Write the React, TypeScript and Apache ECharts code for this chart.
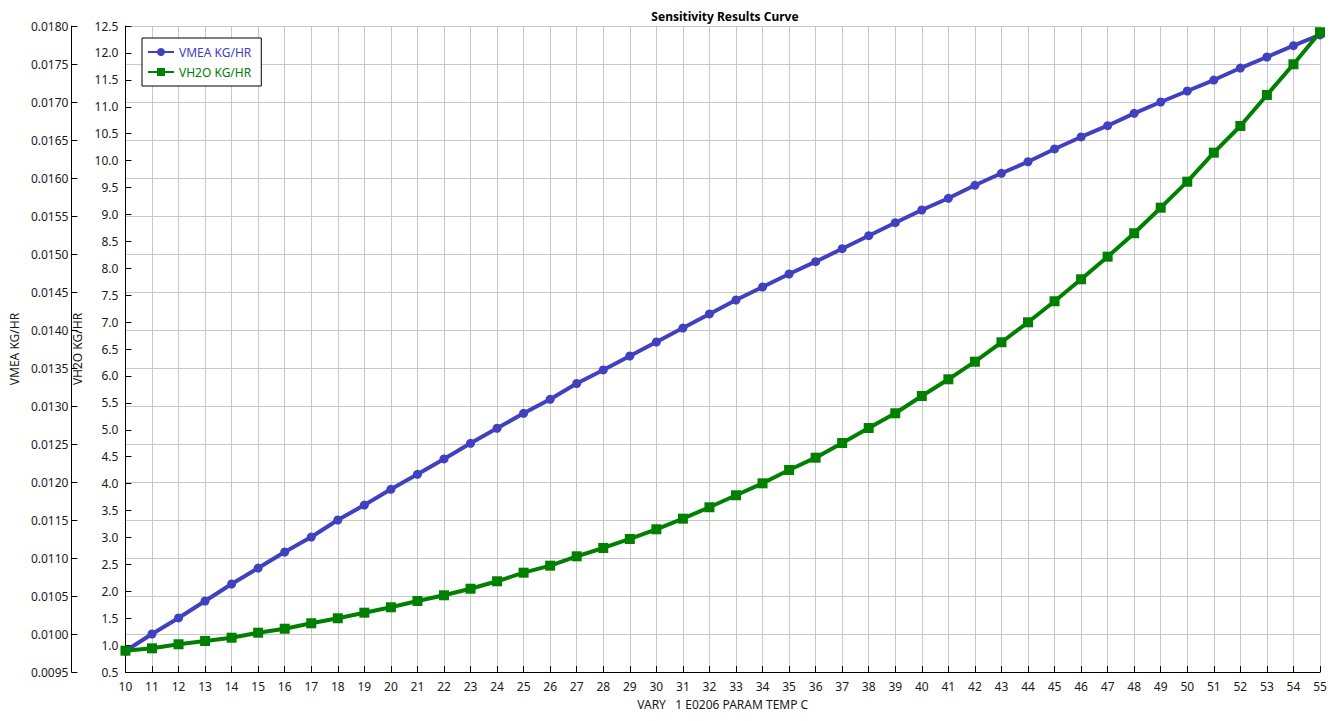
import React, { useEffect, useRef } from "react";
import * as echarts from "echarts";

const temps: number[] = [
  10, 11, 12, 13, 14, 15, 16, 17, 18, 19, 20, 21, 22, 23, 24, 25, 26, 27, 28, 29,
  30, 31, 32, 33, 34, 35, 36, 37, 38, 39, 40, 41, 42, 43, 44, 45, 46, 47, 48, 49,
  50, 51, 52, 53, 54, 55,
];

const vmea: number[] = [
  0.009776, 0.01, 0.010211, 0.010434, 0.010658, 0.010868, 0.011079, 0.011276,
  0.0115, 0.011697, 0.011904, 0.012101, 0.012303, 0.012509, 0.012707, 0.012904,
  0.013088, 0.013296, 0.013474, 0.013658, 0.013842, 0.014026, 0.014211, 0.014395,
  0.014566, 0.014737, 0.014899, 0.01507, 0.015241, 0.015412, 0.015579, 0.015733,
  0.015904, 0.016062, 0.016214, 0.016382, 0.01654, 0.016688, 0.016851, 0.017,
  0.017145, 0.017289, 0.017447, 0.017592, 0.017741, 0.017882,
];

const vh2o: number[] = [
  0.896, 0.94, 1.015, 1.076, 1.137, 1.23, 1.304, 1.405, 1.498, 1.602, 1.702,
  1.819, 1.925, 2.047, 2.185, 2.345, 2.475, 2.649, 2.804, 2.971, 3.151, 3.348,
  3.56, 3.783, 4.005, 4.253, 4.481, 4.754, 5.033, 5.306, 5.627, 5.937, 6.264,
  6.625, 6.996, 7.387, 7.795, 8.215, 8.65, 9.125, 9.608, 10.147, 10.643, 11.219,
  11.789, 12.384,
];

const seriesNames = ["VMEA KG/HR", "VH2O KG/HR"];
const titleText = "Sensitivity Results Curve";
const xName = "VARY   1 E0206 PARAM TEMP C";

const FONT = "'Noto Sans', 'Open Sans', sans-serif";
const BLUE = "#4040c0";
const GREEN = "#008000";
const GRID = "#c8c8c8";
const TXT = "#1a1a1a";

export default function App() {
  const ref = useRef<HTMLDivElement>(null);
  useEffect(() => {
    if (!ref.current) return;
    const chart = echarts.init(ref.current, undefined, { renderer: "svg" });
    chart.setOption({
      animation: false,
      backgroundColor: "#ffffff",
      textStyle: { fontFamily: FONT },
      title: {
        text: titleText,
        left: 720,
        textAlign: "center",
        top: 5,
        textStyle: { fontSize: 12, fontWeight: "bold", color: "#000", fontFamily: FONT },
      },
      legend: {
        orient: "vertical",
        left: 142,
        top: 38,
        backgroundColor: "#fff",
        borderColor: "#000",
        borderWidth: 1,
        borderRadius: 0,
        padding: [8, 10, 8, 5],
        itemWidth: 26,
        itemHeight: 10,
        itemGap: 8,
        data: [
          { name: seriesNames[0], textStyle: { color: BLUE } },
          { name: seriesNames[1], textStyle: { color: GREEN } },
        ],
        textStyle: { fontSize: 12, fontFamily: FONT },
      },
      grid: { left: 120, right: 14, top: 26, bottom: 49, containLabel: false },
      xAxis: {
        type: "value",
        min: 10,
        max: 55,
        interval: 1,
        name: xName,
        nameLocation: "middle",
        nameGap: 26,
        nameTextStyle: { fontSize: 12, color: TXT, fontFamily: FONT },
        axisLine: { lineStyle: { color: "#000", width: 1 } },
        axisTick: { inside: true, length: 6, lineStyle: { color: "#000" } },
        axisLabel: { fontSize: 12, color: TXT, margin: 8, fontFamily: FONT },
        splitLine: { show: true, lineStyle: { color: GRID, width: 1 } },
      },
      yAxis: [
        {
          type: "value",
          position: "left",
          offset: 54,
          min: 0.0095,
          max: 0.018,
          interval: 0.0005,
          name: seriesNames[0],
          nameLocation: "middle",
          nameGap: 46,
          nameRotate: 90,
          nameTextStyle: { fontSize: 12, color: TXT, fontFamily: FONT },
          axisLine: { show: true, lineStyle: { color: "#000", width: 1 } },
          axisTick: { show: true, inside: true, length: 6, lineStyle: { color: "#000" } },
          axisLabel: {
            fontSize: 12,
            color: TXT,
            margin: 3,
            fontFamily: FONT,
            formatter: (v: number) => v.toFixed(4),
          },
          splitLine: { show: true, lineStyle: { color: GRID, width: 1 } },
        },
        {
          type: "value",
          position: "left",
          offset: 0,
          min: 0.5,
          max: 12.5,
          interval: 0.5,
          name: seriesNames[1],
          nameLocation: "middle",
          nameGap: 33,
          nameRotate: 90,
          nameTextStyle: { fontSize: 12, color: TXT, fontFamily: FONT },
          axisLine: { show: true, lineStyle: { color: "#000", width: 1 } },
          axisTick: { show: true, inside: true, length: 6, lineStyle: { color: "#000" } },
          axisLabel: {
            fontSize: 12,
            color: TXT,
            margin: 7,
            fontFamily: FONT,
            formatter: (v: number) => v.toFixed(1),
          },
          splitLine: { show: false },
        },
      ],
      series: [
        {
          name: seriesNames[0],
          type: "line",
          yAxisIndex: 0,
          data: temps.map((t, i) => [t, vmea[i]]),
          symbol: "circle",
          symbolSize: 9,
          itemStyle: { color: BLUE },
          lineStyle: { color: BLUE, width: 4 },
          z: 3,
        },
        {
          name: seriesNames[1],
          type: "line",
          yAxisIndex: 1,
          data: temps.map((t, i) => [t, vh2o[i]]),
          symbol: "rect",
          symbolSize: 10,
          itemStyle: { color: GREEN },
          lineStyle: { color: GREEN, width: 4 },
          z: 4,
        },
      ],
    });
    return () => chart.dispose();
  }, []);
  return (
    <div
      ref={ref}
      style={{ position: "fixed", left: 0, top: 0, width: 1334, height: 721 }}
    />
  );
}
